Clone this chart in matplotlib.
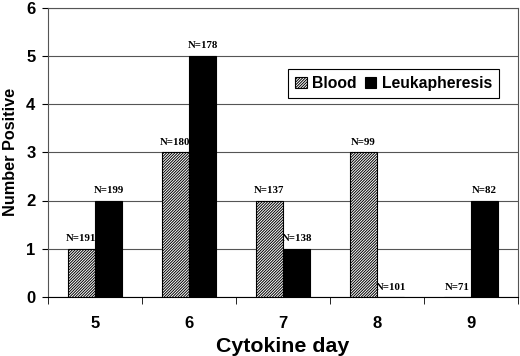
import numpy as np
import matplotlib.pyplot as plt

plt.rcParams['hatch.linewidth'] = 0.7

days = ['5', '6', '7', '8', '9']
blood = [1, 3, 2, 3, 0]
leuka = [2, 5, 1, 0, 2]
blood_n = ['N=191', 'N=180', 'N=137', 'N=99', 'N=71']
leuka_n = ['N=199', 'N=178', 'N=138', 'N=101', 'N=82']

fig = plt.figure(figsize=(5.2, 3.56), dpi=100)
ax = fig.add_axes([48 / 520, 1 - 297 / 356, 470 / 520, 289.5 / 356])

x = np.arange(len(days))
w = 0.29
ax.bar(x - w / 2, blood, w, color='white', edgecolor='black', hatch='/' * 12,
       linewidth=0.8, label='Blood', zorder=3)
ax.bar(x + w / 2, leuka, w, color='black', edgecolor='black',
       linewidth=0.8, label='Leukapheresis', zorder=3)

for xs, vals, labs in [(x - w / 2, blood, blood_n), (x + w / 2, leuka, leuka_n)]:
    for xi, v, lab in zip(xs, vals, labs):
        ax.text(xi, v + 0.11, lab, ha='center', va='bottom', fontsize=7.8,
                fontweight='bold', family='Liberation Serif', zorder=4)

ax.set_xlim(-0.5, 4.5)
ax.set_ylim(0, 6)
ax.set_yticks(range(7))
ax.set_xticks(x)
ax.set_xticklabels(days)
ax.set_xticks(np.arange(-0.5, 5, 1), minor=True)
ax.tick_params(axis='x', which='major', length=0, pad=14)
ax.tick_params(axis='x', which='minor', length=5, direction='out')
ax.tick_params(axis='y', length=4, direction='out', pad=5)
for lab in ax.get_xticklabels() + ax.get_yticklabels():
    lab.set_fontweight('bold')
    lab.set_fontsize(12)
    lab.set_family('Liberation Sans')

ax.grid(axis='y', color='#555555', linewidth=0.8, zorder=0)
for s in ax.spines.values():
    s.set_color('#555555')
    s.set_linewidth(0.8)
ax.spines['bottom'].set_color('black')

ax.set_xlabel('Cytokine day', fontsize=15.4, fontweight='bold', family='Liberation Sans', labelpad=4)
ax.set_ylabel('Number Positive', fontsize=11.7, fontweight='bold', family='Liberation Sans', labelpad=6)

leg = ax.legend(ncol=2, loc='upper right', bbox_to_anchor=(0.96, 0.788), borderaxespad=0,
                prop={'family': 'Liberation Sans', 'weight': 'bold', 'size': 11.3},
                fancybox=False, edgecolor='black', framealpha=1,
                handlelength=0.75, handleheight=0.75, handletextpad=0.35,
                columnspacing=0.5, borderpad=0.45)
leg.get_frame().set_linewidth(0.8)

fig.savefig('out.png', dpi=100)
